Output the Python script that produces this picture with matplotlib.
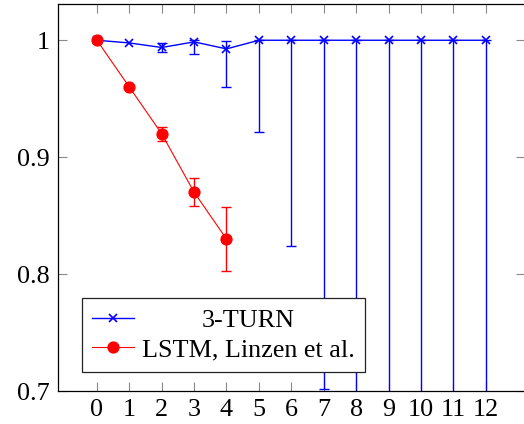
import matplotlib
matplotlib.use("Agg")
import matplotlib.pyplot as plt
import numpy as np

# ---- data ----
x_turn = [0, 1, 2, 3, 4, 5, 6, 7, 8, 9, 10, 11, 12]
y_turn = [1.0, 0.9977, 0.9938, 0.9986, 0.9926, 1.0, 1.0, 1.0, 1.0, 1.0, 1.0, 1.0, 1.0]
err_turn_low = [0.0, 0.0, 0.004, 0.010, 0.033, 0.0786, 0.1756, 0.298, 0.45, 0.55, 0.6, 0.65, 0.7]
err_turn_high = [0.0, 0.0, 0.004, 0.0014, 0.007, 0.0, 0.0, 0.0, 0.0, 0.0, 0.0, 0.0, 0.0]

x_lstm = [0, 1, 2, 3, 4]
y_lstm = [1.0, 0.96, 0.92, 0.87, 0.83]
err_lstm = [0.0, 0.0, 0.006, 0.012, 0.027]

xticks = list(range(13))
yticks = [0.7, 0.8, 0.9, 1.0]
yticklabels = ["0.7", "0.8", "0.9", "1"]

label_turn = "3-TURN"
label_lstm = "LSTM, Linzen et al."

# ---- style ----
FS = 18.8
plt.rcParams['font.family'] = ['Liberation Serif', 'DejaVu Serif']
plt.rcParams['font.size'] = FS

BLUE = (0, 0, 1)
RED = (1, 0, 0)

fig = plt.figure(figsize=(5.24, 4.24), dpi=100)
W, H = 524, 424
ax = fig.add_axes([58 / W, (H - 391) / H, 466.6 / W, (391 - 4) / H])

# error bars only where an error exists
xt = np.array(x_turn); yt = np.array(y_turn)
lo = np.array(err_turn_low); hi = np.array(err_turn_high)
m = (lo > 0) | (hi > 0)
ax.errorbar(xt[m], yt[m], yerr=[lo[m], hi[m]], fmt='none', ecolor=BLUE,
            elinewidth=1.0, capsize=3.3, capthick=1.0, zorder=2)
ax.plot(x_turn, y_turn, color=BLUE, marker='x', markersize=5.3,
        markeredgewidth=1.2, linewidth=1.0, label=label_turn, zorder=2)

xl = np.array(x_lstm); yl = np.array(y_lstm); el = np.array(err_lstm)
ml = el > 0
ax.errorbar(xl[ml], yl[ml], yerr=el[ml], fmt='none', ecolor=RED,
            elinewidth=1.0, capsize=3.3, capthick=1.0, zorder=3)
ax.plot(x_lstm, y_lstm, color=RED, marker='o', markersize=7.8,
        linewidth=0.8, label=label_lstm, zorder=3)

ax.set_xlim(-1.2, 13.2)
ax.set_ylim(0.7, 1.031)
ax.set_xticks(xticks)
ax.set_xticklabels([str(v) for v in xticks])
ax.set_yticks(yticks)
ax.set_yticklabels(yticklabels)

ax.tick_params(direction='in', length=6.5, width=0.8, color='#888888',
               top=True, right=True, pad=6)
for s in ax.spines.values():
    s.set_linewidth(0.9)
    s.set_color('black')

leg = ax.legend(loc='lower left', bbox_to_anchor=(0.0514, 0.049), borderaxespad=0,
                fancybox=False, framealpha=1, edgecolor='#222222',
                handlelength=1.6, handletextpad=0.3, labelspacing=0.25,
                borderpad=0.4, fontsize=FS)
leg.get_frame().set_linewidth(0.9)

# center legend texts within their column
fig.canvas.draw()
r = fig.canvas.get_renderer()
texts = leg.get_texts()
widths = [t.get_window_extent(r).width for t in texts]
wmax = max(widths)
for t, w in zip(texts, widths):
    t.set_x((wmax - w) / 2)

fig.savefig("out.png", dpi=100)
